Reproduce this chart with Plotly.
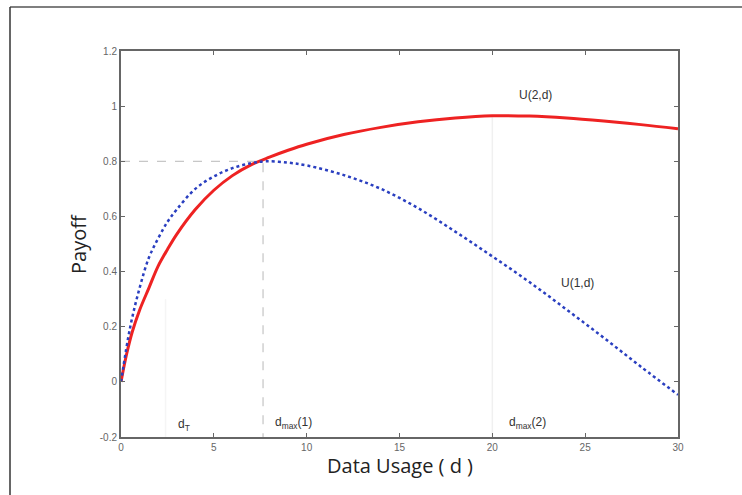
import plotly.graph_objects as go

# Data
d_u1 = [0, 0.5, 1, 1.5, 2, 2.5, 3, 4, 5, 6, 7, 7.8, 9, 10, 12, 14, 16, 18, 20, 22, 24, 26, 28, 30]
u1 = [0.0, 0.2, 0.34, 0.45, 0.52, 0.58, 0.625, 0.70, 0.745, 0.775, 0.793, 0.80, 0.795, 0.785,
      0.75, 0.70, 0.63, 0.545, 0.455, 0.362, 0.262, 0.16, 0.055, -0.047]

d_u2 = [0, 0.3, 0.6, 1, 1.5, 2, 2.5, 3, 4, 5, 6, 7, 8, 9, 10, 12, 14, 16, 18, 20, 22, 24, 26, 28, 30]
u2 = [0.0, 0.1, 0.18, 0.26, 0.34, 0.42, 0.48, 0.535, 0.625, 0.695, 0.748, 0.787, 0.815, 0.84,
      0.862, 0.897, 0.923, 0.943, 0.957, 0.965, 0.964, 0.957, 0.946, 0.933, 0.918]

x_ticks = [0, 5, 10, 15, 20, 25, 30]
x_tick_text = ["0", "5", "10", "15", "20", "25", "30"]
y_ticks = [-0.2, 0, 0.2, 0.4, 0.6, 0.8, 1, 1.2]
y_tick_text = ["-0.2", "0", "0.2", "0.4", "0.6", "0.8", "1", "1.2"]

d_T = 2.4
d_max1 = 7.65
u_max1 = 0.8
d_max2 = 20.0
u_max2 = 0.965

fig = go.Figure()

# faint guide lines
fig.add_trace(go.Scatter(x=[d_T, d_T], y=[-0.2, 0.3], mode="lines",
                         line=dict(color="#f5f5f5", width=1.5), hoverinfo="skip", showlegend=False))
fig.add_trace(go.Scatter(x=[d_max2, d_max2], y=[-0.2, u_max2], mode="lines",
                         line=dict(color="#f0f0f0", width=1.5), hoverinfo="skip", showlegend=False))
# dashed guides for d_max(1)
fig.add_trace(go.Scatter(x=[0, d_max1, d_max1], y=[u_max1, u_max1, -0.2], mode="lines",
                         line=dict(color="#b8b8b8", width=1, dash="dash"), hoverinfo="skip", showlegend=False))

fig.add_trace(go.Scatter(x=d_u2, y=u2, mode="lines", line=dict(color="#ee2222", width=3, shape="spline", smoothing=1.0),
                         name="U(2,d)", showlegend=False))
fig.add_trace(go.Scatter(x=d_u1, y=u1, mode="lines", line=dict(color="#2a3fc0", width=2.5, dash="dot", shape="spline"),
                         name="U(1,d)", showlegend=False))

ann_font = dict(family="Arial, Liberation Sans", size=12, color="#333333")
fig.add_annotation(x=22.3, y=1.04, text="U(2,d)", showarrow=False, font=ann_font)
fig.add_annotation(x=24.6, y=0.36, text="U(1,d)", showarrow=False, font=ann_font)
fig.add_annotation(x=3.4, y=-0.155, text="d<sub>T</sub>", showarrow=False, font=ann_font)
fig.add_annotation(x=9.3, y=-0.15, text="d<sub>max</sub>(1)", showarrow=False, font=ann_font)
fig.add_annotation(x=21.9, y=-0.15, text="d<sub>max</sub>(2)", showarrow=False, font=ann_font)

# axis titles
fig.add_annotation(xref="paper", yref="paper", x=0.5, y=0, yshift=-28, yanchor="middle",
                   text="Data Usage ( d )", showarrow=False,
                   font=dict(family="Open Sans", size=20, color="#222222"))
fig.add_annotation(xref="paper", yref="paper", x=0, xshift=-43, xanchor="center", y=0.5, textangle=-90,
                   text="Payoff", showarrow=False,
                   font=dict(family="Open Sans", size=20, color="#222222"))

# outer frame lines
fig.add_shape(type="line", xref="paper", yref="paper", x0=(10 - 121) / 557, x1=1.2,
              y0=1 + (51 - 7) / 386, y1=1 + (51 - 7) / 386, line=dict(color="#555555", width=1.5))
fig.add_shape(type="line", xref="paper", yref="paper", x0=(10 - 121) / 557, x1=(10 - 121) / 557,
              y0=-0.2, y1=1 + (51 - 7) / 386, line=dict(color="#333333", width=1.5))

axis_common = dict(showgrid=False, zeroline=False, showline=True, linecolor="#666666", linewidth=2,
                   mirror="ticks", ticks="inside", ticklen=4, tickcolor="#666666",
                   tickfont=dict(family="Arial, Liberation Sans", size=10, color="#666666"))

fig.update_xaxes(range=[0, 30], tickvals=x_ticks, ticktext=x_tick_text, **axis_common)
fig.update_yaxes(range=[-0.2, 1.2], tickvals=y_ticks, ticktext=y_tick_text, **axis_common)

fig.update_layout(width=742, height=495, margin=dict(l=121, r=64, t=51, b=58),
                  plot_bgcolor="white", paper_bgcolor="white", showlegend=False)

fig.write_html("out.html")
